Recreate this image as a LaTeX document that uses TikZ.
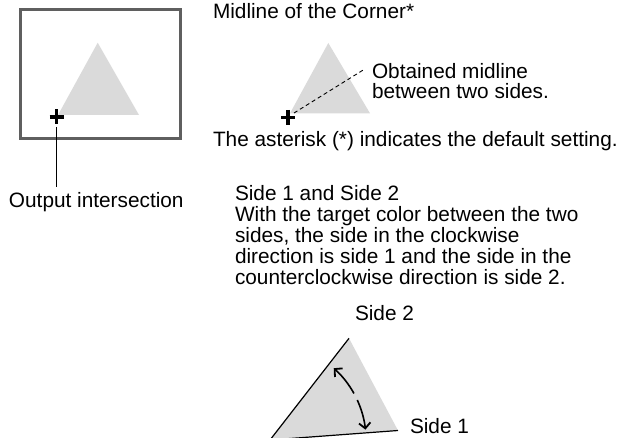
\documentclass[tikz,border=0pt]{standalone}
\usepackage{fontspec}
\setmainfont{Liberation Sans}
\usetikzlibrary{arrows.meta,calc}
\definecolor{trigray}{HTML}{DADADA}
\definecolor{framegray}{HTML}{5F5F5F}
\tikzset{
  txt/.style={anchor=base west, inner sep=0pt, outer sep=0pt, font=\fontsize{20.8}{21}\selectfont},
  plusmark/.style={line width=3.6pt, black},
  frame/.style={draw=framegray, line width=3pt},
  shade/.style={fill=trigray, draw=none},
  edge/.style={draw=black, line width=1.2pt},
  turn/.style={line width=1.6pt, -{Straight Barb[length=5.5pt,width=11.5pt,line width=1.8pt]}},
  midline/.style={line width=0.9pt, dash pattern=on 4pt off 3pt}
}
\begin{document}
\begin{tikzpicture}[x=1pt,y=-1pt]
\useasboundingbox (0,0) rectangle (620,438);
% ---- left figure ----
\draw[frame] (20,10) rectangle (180,139);
\fill[shade] (97.7,42.7) -- (58,115) -- (139,115) -- cycle;
\coordinate (plusA) at (56.5,117);
\draw[plusmark] ($(plusA)+(-7,0)$) -- ($(plusA)+(7,0)$);
\draw[plusmark] ($(plusA)+(0,-7.5)$) -- ($(plusA)+(0,7.5)$);
\coordinate (lineTop) at (56.5,127);
\coordinate (lineBot) at (56.5,187);
\draw[line width=0.8pt] (lineTop) -- (lineBot);
\node[txt] (outlbl) at (9,207.3) {Output intersection};
% ---- midline figure ----
\node[txt] (midtitle) at (213,18.5) {Midline of the Corner*};
\fill[shade] (328.3,43) -- (290,113.3) -- (370,113.3) -- cycle;
\coordinate (plusB) at (288,117.5);
\draw[plusmark] ($(plusB)+(-7,0)$) -- ($(plusB)+(7,0)$);
\draw[plusmark] ($(plusB)+(0,-7.5)$) -- ($(plusB)+(0,7.5)$);
\coordinate (midStart) at (294,113);
\coordinate (midEnd) at (364,69.5);
\draw[midline] (midStart) -- (midEnd);
\node[txt] (ob1) at (372,79) {Obtained midline};
\node[txt] (ob2) at (372,99) {between two sides.};
\node[txt] (aster) at (213,147) {The asterisk (*) indicates the default setting.};
% ---- side 1 / side 2 ----
\node[txt] (p1) at (235,200.7) {Side 1 and Side 2};
\node[txt] (p2) at (235,221.7) {With the target color between the two};
\node[txt] (p3) at (235,242.7) {sides, the side in the clockwise};
\node[txt] (p4) at (235,263.7) {direction is side 1 and the side in the};
\node[txt] (p5) at (235,284.7) {counterclockwise direction is side 2.};
\coordinate (vtx) at (270,440);
\coordinate (apex) at (349,338.3);
\coordinate (rc) at (398,430.5);
\fill[shade] (vtx) -- (apex) -- (rc) -- cycle;
\draw[edge] (apex) -- (vtx) -- (rc);
\draw[turn] ($(vtx)+(-29:96)$) arc[start angle=-29, end angle=-48.4, radius=96];
\draw[turn] ($(vtx)+(-24.6:96)$) arc[start angle=-24.6, end angle=-6.2, radius=96];
\node[txt] (s2) at (355,320) {Side 2};
\node[txt] (s1) at (410,433) {Side 1};
\end{tikzpicture}
\end{document}
